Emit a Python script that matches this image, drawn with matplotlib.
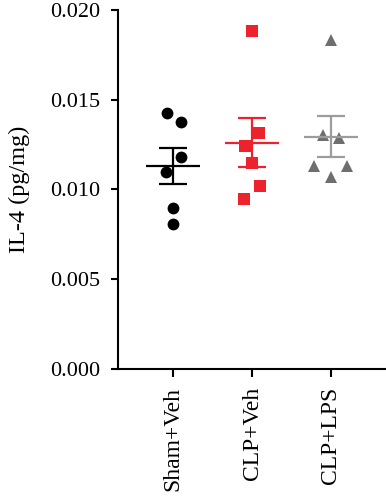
import matplotlib.pyplot as plt
import numpy as np

plt.rcParams["font.family"] = ["Liberation Serif", "DejaVu Serif"]

groups = ["Sham+Veh", "CLP+Veh", "CLP+LPS"]

sham_veh = [0.01426, 0.01376, 0.01181, 0.01097, 0.00897, 0.00808]
clp_veh = [0.01883, 0.01313, 0.01242, 0.01149, 0.01021, 0.00947]
clp_lps = [0.01833, 0.01304, 0.01289, 0.01133, 0.01133, 0.01070]

# horizontal jitter of each point (category units)
sham_dx = [-0.08, 0.10, 0.10, -0.09, 0.0, 0.0]
clp_veh_dx = [0.0, 0.09, -0.09, 0.0, 0.10, -0.10]
clp_lps_dx = [0.0, -0.10, 0.10, -0.21, 0.20, 0.0]

yticks = [0.000, 0.005, 0.010, 0.015, 0.020]

styles = [
    dict(marker="o", color="black", ebar="black", ms=8.5),
    dict(marker="s", color="#ec222d", ebar="#ec222d", ms=9),
    dict(marker="^", color="#6e6e6e", ebar="#9c9c9c", ms=9),
]

fig = plt.figure(figsize=(3.86, 4.99), dpi=100)
ax = fig.add_axes([0.3057, 0.2605, 0.6943, 0.7195])

for i, (vals, dx, st) in enumerate(zip([sham_veh, clp_veh, clp_lps],
                                       [sham_dx, clp_veh_dx, clp_lps_dx], styles)):
    vals = np.asarray(vals)
    x = i + np.asarray(dx)
    ax.plot(x, vals, st["marker"], color=st["color"], ms=st["ms"],
            markeredgewidth=0, linestyle="none", zorder=2)
    mean = vals.mean()
    sem = vals.std(ddof=1) / np.sqrt(len(vals))
    c = st["ebar"]
    ax.hlines(mean, i - 0.34, i + 0.34, color=c, lw=1.6, zorder=3)
    ax.vlines(i, mean - sem, mean + sem, color=c, lw=1.6, zorder=3)
    ax.hlines([mean - sem, mean + sem], i - 0.18, i + 0.18, color=c, lw=1.6, zorder=3)

ax.set_xlim(-0.7, 2.7)
ax.set_ylim(0, 0.020)
ax.set_yticks(yticks)
ax.set_yticklabels([f"{v:.3f}" for v in yticks])
ax.set_xticks(range(len(groups)))
ax.set_xticklabels(groups, rotation=90)
ax.set_ylabel("IL-4 (pg/mg)", fontsize=17.5, labelpad=14)

for s in ["top", "right"]:
    ax.spines[s].set_visible(False)
for s in ["left", "bottom"]:
    ax.spines[s].set_linewidth(1.5)
ax.tick_params(axis="both", width=1.5, length=5, direction="out")
ax.tick_params(axis="y", labelsize=16, pad=8)
ax.tick_params(axis="x", labelsize=17, length=6, pad=7)

fig.savefig("out.png", dpi=100)
